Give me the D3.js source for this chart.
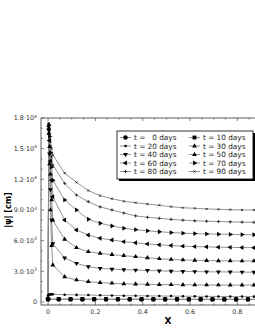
<!DOCTYPE html>
<html>
<head>
<meta charset="utf-8">
<script src="https://cdn.jsdelivr.net/npm/d3@7"></script>
<style>
  body { margin: 0; background: #fff; }
  text { font-family: "DejaVu Sans", sans-serif; }
</style>
</head>
<body>
<svg id="chart" width="255" height="330"></svg>
<script>
// x positions of the samples (near-zero spike + regular grid)
const xNear = [0, 0.003, 0.006, 0.01, 0.015];
const xMain = [0.02, 0.07, 0.12, 0.17, 0.22, 0.27, 0.32, 0.37, 0.42, 0.47, 0.52, 0.57, 0.62, 0.67, 0.72, 0.77, 0.82, 0.87];
const xBottom = [0, 0.045, 0.095, 0.145, 0.195, 0.245, 0.295, 0.345, 0.395, 0.445, 0.495, 0.545, 0.595, 0.645, 0.695, 0.745, 0.795, 0.845, 0.895];

const days = [0, 10, 20, 30, 40, 50, 60, 70, 80, 90];

const psi0  = [250, 250, 250, 250, 250, 250, 250, 250, 250, 250, 250, 250, 250, 250, 250, 250, 250, 250, 250];
const psi10 = [290, 290, 285, 285, 280, 280, 280, 275, 275, 275, 270, 270, 270, 265, 265, 265, 260, 260, 260];
const psi20 = [620, 700, 730, 740, 740, 750, 710, 690, 670, 650, 630, 610, 600, 590, 580, 570, 560, 550, 540, 535, 530, 525, 520];
const psi30 = [300, 16500, 13500, 9000, 5500, 3600, 2450, 2150, 1990, 1890, 1830, 1780, 1750, 1720, 1700, 1690, 1680, 1670, 1660, 1660, 1650, 1650, 1650];
const psi40 = [300, 16800, 14500, 11000, 8000, 5700, 4300, 3780, 3450, 3290, 3200, 3150, 3120, 3080, 3040, 3010, 2990, 2970, 2950, 2940, 2930, 2920, 2910];
const psi50 = [300, 17000, 15200, 12500, 10000, 8000, 6130, 5310, 4920, 4760, 4630, 4530, 4430, 4320, 4230, 4160, 4110, 4080, 4050, 4030, 4020, 4010, 4010];
const psi60 = [300, 17200, 15800, 13800, 11900, 10300, 8020, 7040, 6550, 6230, 6060, 5900, 5790, 5680, 5590, 5520, 5460, 5420, 5390, 5360, 5340, 5320, 5310];
const psi70 = [300, 17300, 16200, 14600, 13200, 11900, 9980, 9000, 8090, 7700, 7430, 7210, 7070, 6960, 6870, 6790, 6730, 6690, 6660, 6630, 6610, 6590, 6580];
const psi80 = [300, 17400, 16500, 15200, 14200, 13400, 11600, 10460, 9810, 9300, 9000, 8700, 8420, 8280, 8180, 8080, 8000, 7940, 7900, 7870, 7840, 7810, 7790];
const psi90 = [300, 17500, 16800, 15800, 15000, 14400, 12600, 11700, 10900, 10400, 10100, 9850, 9710, 9580, 9460, 9320, 9220, 9160, 9100, 9060, 9030, 9000, 9000];

const yTicks = [0, 3000, 6000, 9000, 12000, 15000, 18000];
const yTickLabels = [["0", ""], ["3.0·10", "3"], ["6.0·10", "3"], ["9.0·10", "3"], ["1.2·10", "4"], ["1.5·10", "4"], ["1.8·10", "4"]];
const xTicks = [0, 0.2, 0.4, 0.6, 0.8];
const xTickLabels = ["0", "0.2", "0.4", "0.6", "0.8"];

const xFull = xNear.concat(xMain);
const series = [
  { t: 0,  xs: xBottom, ys: psi0,  sym: d3.symbolCircle, size: 16 },
  { t: 10, xs: xBottom, ys: psi10, sym: d3.symbolSquare, size: 15 },
  { t: 20, xs: xFull,   ys: psi20, sym: d3.symbolCircle, size: 5 },
  { t: 30, xs: xFull,   ys: psi30, sym: d3.symbolTriangle, size: 10, rot: 0 },
  { t: 40, xs: xFull,   ys: psi40, sym: d3.symbolTriangle, size: 10, rot: 180 },
  { t: 50, xs: xFull,   ys: psi50, sym: d3.symbolTriangle, size: 10, rot: 0 },
  { t: 60, xs: xFull,   ys: psi60, sym: d3.symbolTriangle, size: 10, rot: -90 },
  { t: 70, xs: xFull,   ys: psi70, sym: d3.symbolTriangle, size: 10, rot: 90 },
  { t: 80, xs: xFull,   ys: psi80, sym: d3.symbolPlus, size: 4, stroke: true },
  { t: 90, xs: xFull,   ys: psi90, sym: d3.symbolTimes, size: 3.5, stroke: true }
];

const svg = d3.select("#chart");
const x = d3.scaleLinear().domain([-0.03, 0.9]).range([41, 261]);
const y = d3.scaleLinear().domain([-300, 18000]).range([305, 118]);

svg.append("clipPath").attr("id", "clip")
  .append("rect").attr("x", 41).attr("y", 110).attr("width", 220).attr("height", 196);

const axisColor = "#333";

// frame lines (left, top, bottom)
svg.append("line").attr("x1", 41).attr("x2", 41).attr("y1", 118).attr("y2", 305).attr("stroke", axisColor).attr("stroke-width", 0.8);
svg.append("line").attr("x1", 41).attr("x2", 255).attr("y1", 118).attr("y2", 118).attr("stroke", axisColor).attr("stroke-width", 0.8);
svg.append("line").attr("x1", 41).attr("x2", 255).attr("y1", 305).attr("y2", 305).attr("stroke", axisColor).attr("stroke-width", 0.8);

// ticks (inward)
const yMinor = d3.range(0, 18001, 1000);
svg.append("g").selectAll("line").data(yMinor).join("line")
  .attr("x1", 41).attr("x2", d => 41 + (d % 3000 === 0 ? 3 : 1.6))
  .attr("y1", d => y(d)).attr("y2", d => y(d))
  .attr("stroke", axisColor).attr("stroke-width", 0.6);

const xMinor = d3.range(0, 0.9, 0.05);
[305, 118].forEach((yy, i) => {
  svg.append("g").selectAll("line").data(xMinor).join("line")
    .attr("x1", d => x(d)).attr("x2", d => x(d))
    .attr("y1", yy)
    .attr("y2", (d, j) => yy + (i === 0 ? -1 : 1) * (j % 4 === 0 ? 3 : 1.6))
    .attr("stroke", axisColor).attr("stroke-width", 0.6);
});

// tick labels
const yl = svg.append("g").selectAll("text").data(yTicks).join("text")
  .attr("x", 37).attr("y", d => y(d) + 2.3)
  .attr("text-anchor", "end").attr("font-size", 6.4).attr("fill", "#333");
yl.append("tspan").text((d, i) => yTickLabels[i][0]);
yl.append("tspan").attr("dy", -2.5).attr("font-size", 4.6).text((d, i) => yTickLabels[i][1]);

svg.append("g").selectAll("text").data(xTicks).join("text")
  .attr("x", d => x(d)).attr("y", 314)
  .attr("text-anchor", "middle").attr("font-size", 6.4).attr("fill", "#333")
  .text((d, i) => xTickLabels[i]);

// axis titles
svg.append("text").attr("x", 168).attr("y", 324).attr("text-anchor", "middle")
  .attr("font-size", 9).attr("font-weight", "bold").text("X");
svg.append("text").attr("transform", "translate(11,210) rotate(-90)").attr("text-anchor", "middle")
  .attr("font-size", 8).attr("font-weight", "bold").text("|ψ| [cm]");

// curves
const plot = svg.append("g").attr("clip-path", "url(#clip)");
const line = d3.line().x(d => x(d[0])).y(d => y(d[1]));

function drawSymbol(g, s, px, py) {
  const p = g.append("path")
    .attr("d", d3.symbol().type(s.sym).size(s.size)())
    .attr("transform", `translate(${px},${py}) rotate(${s.rot || 0})`);
  if (s.stroke) p.attr("fill", "none").attr("stroke", "#000").attr("stroke-width", 0.7);
  else p.attr("fill", "#000");
}

series.forEach(s => {
  const pts = s.xs.map((xv, i) => [xv, s.ys[i]]);
  plot.append("path").datum(pts).attr("d", line)
    .attr("fill", "none").attr("stroke", "#888").attr("stroke-width", 0.9);
});
series.forEach(s => {
  const g = plot.append("g");
  s.xs.forEach((xv, i) => drawSymbol(g, s, x(xv), y(s.ys[i])));
});

// legend
const lg = svg.append("g");
lg.append("rect").attr("x", 119).attr("y", 133).attr("width", 136).attr("height", 48).attr("fill", "#000");
lg.append("rect").attr("x", 117).attr("y", 131).attr("width", 136).attr("height", 48)
  .attr("fill", "#fff").attr("stroke", "#000").attr("stroke-width", 0.8);
series.forEach((s, i) => {
  const col = i % 2, row = Math.floor(i / 2);
  const x0 = col === 0 ? 120 : 189;
  const yy = 137.5 + row * 8.5;
  lg.append("line").attr("x1", x0).attr("x2", x0 + 11).attr("y1", yy).attr("y2", yy)
    .attr("stroke", "#888").attr("stroke-width", 0.9);
  drawSymbol(lg, s, x0 + 5.5, yy);
  lg.append("text").attr("x", x0 + 14).attr("y", yy + 2.6)
    .attr("font-size", 7.3).attr("fill", "#222").style("white-space", "pre")
    .text(s.t < 10 ? `t =   ${s.t} days` : `t = ${s.t} days`);
});
</script>
</body>
</html>
